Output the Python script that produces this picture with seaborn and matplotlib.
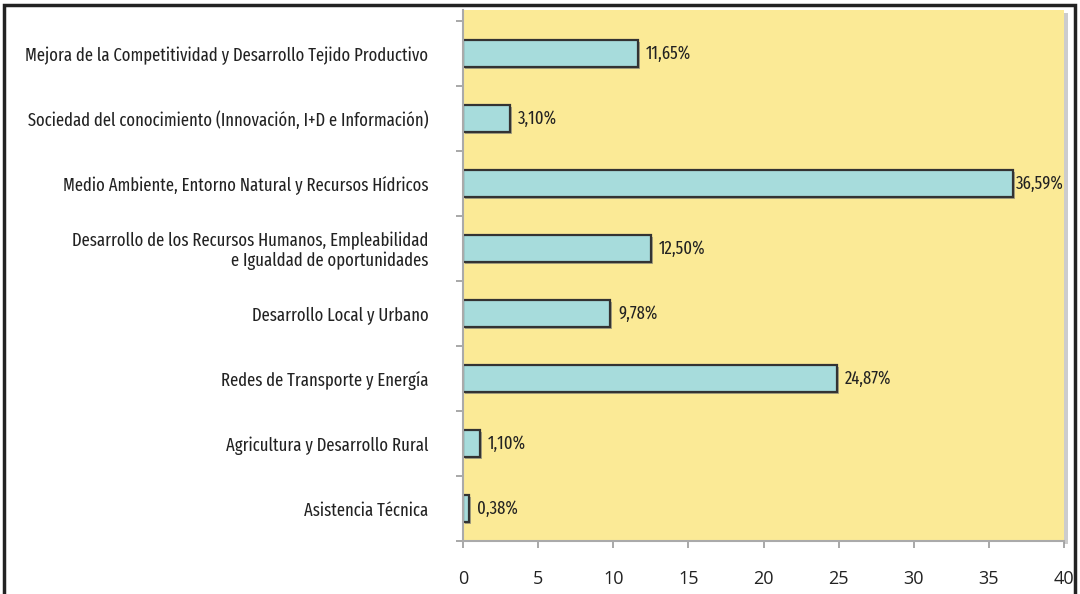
import matplotlib
matplotlib.use('Agg')
import matplotlib.pyplot as plt
import matplotlib.patheffects as pe
from matplotlib.patches import Rectangle
import seaborn as sns
import pandas as pd

categories = [
    'Mejora de la Competitividad y Desarrollo Tejido Productivo',
    'Sociedad del conocimiento (Innovación, I+D e Información)',
    'Medio Ambiente, Entorno Natural y Recursos Hídricos',
    'Desarrollo de los Recursos Humanos, Empleabilidad\ne Igualdad de oportunidades',
    'Desarrollo Local y Urbano',
    'Redes de Transporte y Energía',
    'Agricultura y Desarrollo Rural',
    'Asistencia Técnica',
]
values = [11.65, 3.10, 36.59, 12.50, 9.78, 24.87, 1.10, 0.38]
x_ticks = [0, 5, 10, 15, 20, 25, 30, 35, 40]

df = pd.DataFrame({'cat': categories, 'val': values})

label_font = ['Fira Sans Extra Condensed', 'Fira Sans Condensed', 'DejaVu Sans']
tick_font = ['Open Sans', 'DejaVu Sans']

fig = plt.figure(figsize=(10.8, 5.94), dpi=100)
ax = fig.add_axes([0.4287, 0.0892, 0.5565, 0.8940])

sns.barplot(data=df, x='val', y='cat', orient='h', ax=ax, width=0.41,
            color='#a7dcdc', saturation=1, edgecolor='#333333', linewidth=1.6)

# soft drop shadow under the bars
for p in ax.patches:
    p.set_path_effects([pe.SimplePatchShadow(offset=(1.5, -1.5), shadow_rgbFace='#777777', alpha=0.6),
                        pe.Normal()])

ax.set_facecolor('#fbea96')
ax.set_xlim(0, 40)
ax.set_ylim(7.5, -0.67)
ax.set_xticks(x_ticks)
ax.set_xticklabels([str(t) for t in x_ticks], fontsize=13, family=tick_font, color='#222222')
ax.set_yticks(range(len(categories)))
ax.set_yticklabels(categories, fontsize=13, family=label_font,
                   color='#222222', linespacing=1.1)
ax.set_yticks([i + 0.5 for i in range(-1, len(categories))], minor=True)
ax.tick_params(axis='y', which='major', length=0, pad=25)
ax.tick_params(axis='y', which='minor', length=5, color='#999999', width=1.2)
ax.tick_params(axis='x', length=5, color='#999999', width=1.2, pad=16)
ax.set_xlabel('')
ax.set_ylabel('')

for s in ['top', 'right']:
    ax.spines[s].set_visible(False)
ax.spines['left'].set_color('#aaaaaa')
ax.spines['left'].set_linewidth(1.5)
ax.spines['bottom'].set_color('#aaaaaa')
ax.spines['bottom'].set_linewidth(1.5)

# shadow along right edge of the plot area
ax.add_patch(Rectangle((1.0, -0.005), 0.006, 1.0, transform=ax.transAxes,
                       facecolor='#cccccc', edgecolor='none', clip_on=False))

for i, v in enumerate(values):
    txt = f'{v:.2f}'.replace('.', ',') + '%'
    off = 3 if v > 35 else 8
    ax.annotate(txt, (v, i), xytext=(off, 0), textcoords='offset pixels',
                va='center', ha='left', fontsize=13, family=label_font,
                color='#222222')

# outer frame
fig.add_artist(Rectangle((0.004, -0.05), 0.991, 1.041, transform=fig.transFigure,
                         facecolor='none', edgecolor='#222222', linewidth=2.5))

fig.savefig('out.png', dpi=100)
